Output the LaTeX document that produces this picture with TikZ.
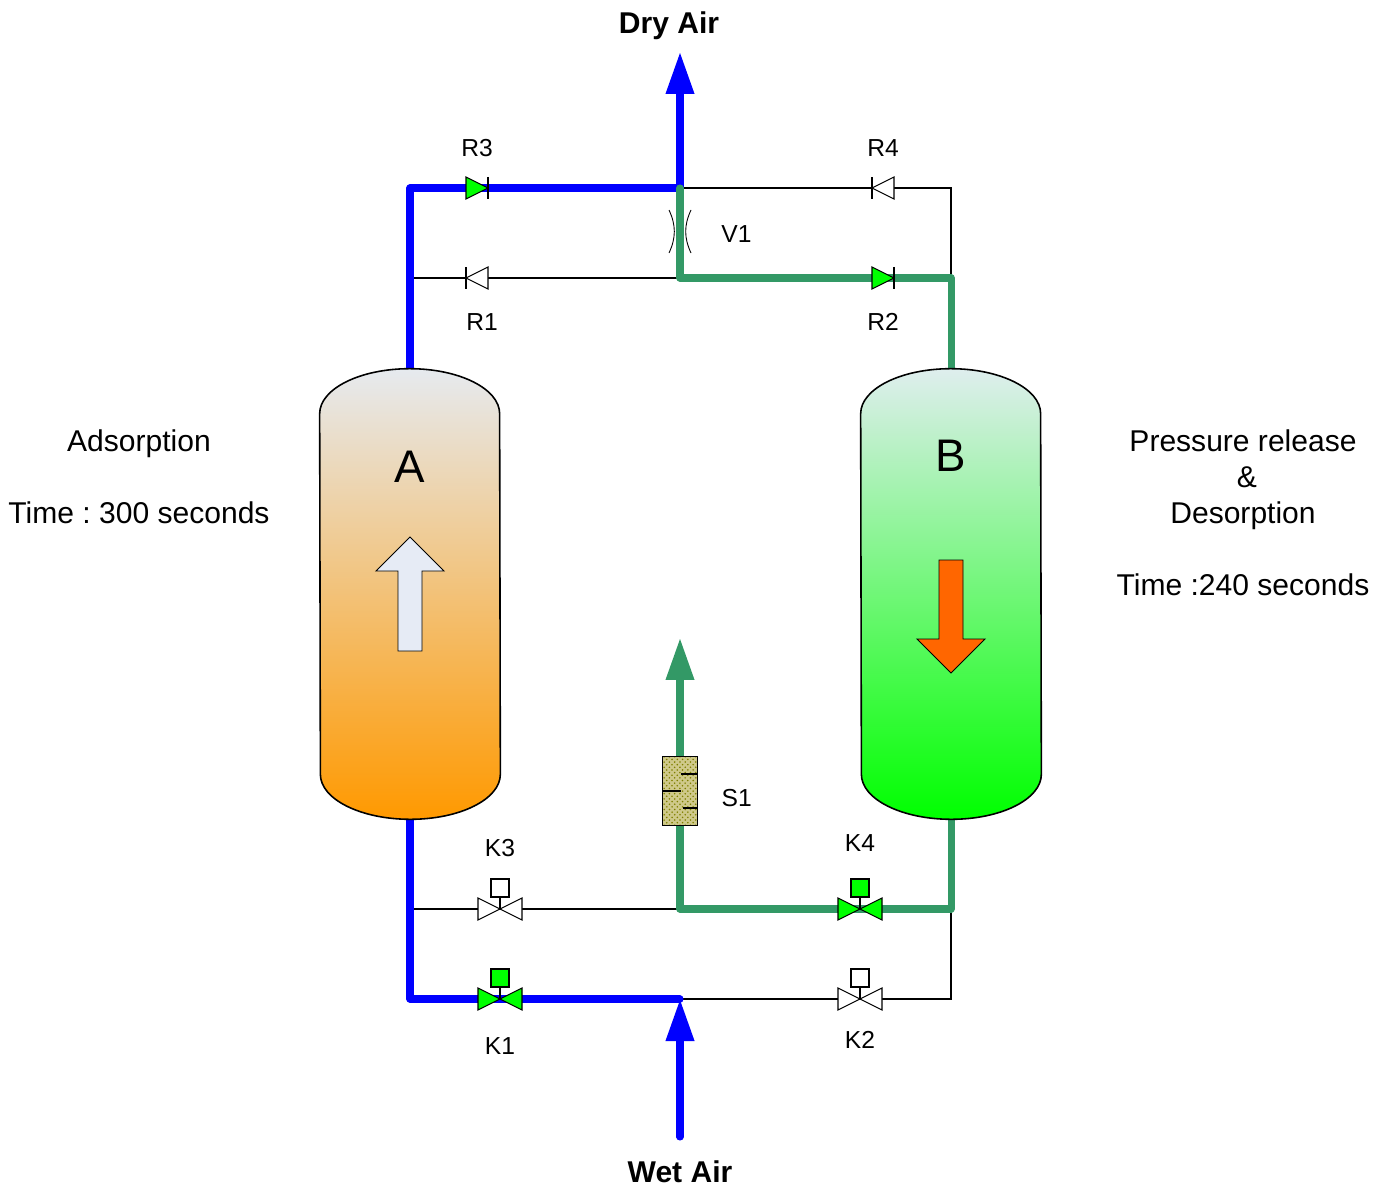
\documentclass[tikz,border=0pt]{standalone}
\usepackage{fontspec}
\setmainfont{Liberation Sans}
\frenchspacing
\usetikzlibrary{positioning}
\usetikzlibrary{arrows.meta,patterns}
\definecolor{airblue}{HTML}{0000FF}
\definecolor{purgegreen}{HTML}{339966}
\definecolor{openvalve}{HTML}{00FF00}
\definecolor{tankAtop}{HTML}{E6EAEF}
\definecolor{tankAbot}{HTML}{FF9900}
\definecolor{tankBtop}{HTML}{DFEEEE}
\definecolor{arrowpale}{HTML}{E6EBF5}
\definecolor{arroworange}{HTML}{FF6600}
\definecolor{silencer}{HTML}{CFC98A}
\tikzset{
	bluepipe/.style={draw=airblue,line width=4pt,line join=round,line cap=round},
	greenpipe/.style={draw=purgegreen,line width=4pt,line join=round,line cap=round},
	thinpipe/.style={draw=black,line width=.75pt},
	tip/.style={-{Triangle[length=.84cm,width=.54cm]}},
	tankbody/.style={minimum width=3.6cm,minimum height=9cm,inner sep=0pt},
	tag/.style={inner sep=0pt,font=\fontsize{14}{16}\selectfont},
	note/.style={inner sep=0pt,align=center,font=\fontsize{17.1}{20.5}\selectfont},
	gatevalve/.pic={
		\path[pic actions,draw=black,line width=.6pt] (-22,-11) -- (0,0) -- (-22,11) -- cycle;
		\path[pic actions,draw=black,line width=.6pt] (22,-11) -- (0,0) -- (22,11) -- cycle;
		\draw[line width=.6pt] (0,0) -- (0,-12);
		\path[pic actions,draw=black,line width=.6pt] (-9,-30) rectangle (9,-12);
	},
	checkvalve/.pic={
		\path[pic actions,draw=black,line width=.6pt] (-11,-11) -- (11,0) -- (-11,11) -- cycle;
		\draw[line width=.6pt] (11,-11) -- (11,11);
	}
}
\newcommand{\tankshell}[3]{
	\shade[top color=#2,bottom color=#3,draw=black,line width=.9pt]
		([yshift=-.9cm]#1.north west) arc[start angle=180,end angle=0,x radius=1.8cm,y radius=.9cm]
		-- ([yshift=.9cm]#1.south east) arc[start angle=0,end angle=-180,x radius=1.8cm,y radius=.9cm] -- cycle;
}
\begin{document}
\begin{tikzpicture}[x=.02cm,y=-.02cm]
	\useasboundingbox (0,0) rectangle (1388,1189);

	\node[tankbody](tankA) at (410,594) {};
	\node[tankbody](tankB) at (951,594) {};
	\coordinate (topleft) at (410,188);
	\coordinate (topmid) at (680,188);
	\coordinate (topright) at (951,188);
	\coordinate (upleft) at (410,278);
	\coordinate (upmid) at (680,278);
	\coordinate (upright) at (951,278);
	\coordinate (lowleft) at (410,909);
	\coordinate (lowmid) at (680,909);
	\coordinate (lowright) at (951,909);
	\coordinate (botleft) at (410,999);
	\coordinate (botmid) at (680,999);
	\coordinate (botright) at (951,999);
	\coordinate (dryend) at (680,52);
	\coordinate (wetstart) at (680,1137);
	\coordinate (ventend) at (680,638);
	\coordinate (r1) at (477,278);
	\coordinate (r2) at (883,278);
	\coordinate (r3) at (477,188);
	\coordinate (r4) at (883,188);
	\coordinate (k1) at (500,999);
	\coordinate (k2) at (860,999);
	\coordinate (k3) at (500,909);
	\coordinate (k4) at (860,909);
	\coordinate (v1) at (680,234);
	\node[minimum width=.68cm,minimum height=1.36cm,inner sep=0pt](s1) at (680,791) {};

	\draw[thinpipe] (upleft) to (upmid);
	\draw[thinpipe] (topmid) -- (topright) -- (upright);
	\draw[thinpipe] (lowleft) to (lowmid);
	\draw[thinpipe] (lowright) -- (botright) -- (botmid);
	\draw[bluepipe] (tankA.north) -- (topleft) -- (topmid);
	\draw[bluepipe] (tankA.south) -- (botleft) -- (botmid);
	\draw[bluepipe,tip] (topmid) to (dryend);
	\draw[greenpipe] (topmid) -- (upmid) -- (upright) -- (tankB.north);
	\draw[greenpipe] (tankB.south) -- (lowright) -- (lowmid) -- (s1.south);
	\draw[bluepipe,tip] (wetstart) to (botmid);
	\draw[greenpipe,tip] (s1.north) to (ventend);

	\tankshell{tankA}{tankAtop}{tankAbot}
	\tankshell{tankB}{tankBtop}{openvalve}
	\node[font=\fontsize{26}{30}\selectfont,inner sep=0pt](nameA) at (410,467) {A};
	\node[font=\fontsize{26}{30}\selectfont,inner sep=0pt](nameB) at (951,456) {B};
	\draw[fill=arrowpale,line width=.5pt] (398,651) -- (398,571) -- (376,571) -- (410,537) -- (444,571) -- (422,571) -- (422,651) -- cycle;
	\draw[fill=arroworange,line width=.5pt] (939,560) -- (939,639) -- (917,639) -- (951,673) -- (985,639) -- (963,639) -- (963,560) -- cycle;

	\pic[fill=white] at (r1) [rotate=180] {checkvalve};
	\pic[fill=openvalve] at (r2) {checkvalve};
	\pic[fill=openvalve] at (r3) {checkvalve};
	\pic[fill=white] at (r4) [rotate=180] {checkvalve};
	\pic[fill=openvalve] at (k1) {gatevalve};
	\pic[fill=white] at (k2) {gatevalve};
	\pic[fill=white] at (k3) {gatevalve};
	\pic[fill=openvalve] at (k4) {gatevalve};
	\draw[line width=.5pt] (669,210) to[bend left=25] (669,253);
	\draw[line width=.5pt] (691,210) to[bend right=25] (691,253);
	\fill[silencer] (s1.south west) rectangle (s1.north east);
	\fill[pattern=crosshatch dots,pattern color=olive] (s1.south west) rectangle (s1.north east);
	\draw[line width=.9pt] (s1.south west) rectangle (s1.north east);
	\draw[line width=.9pt] (681,774) -- (697,774);
	\draw[line width=.9pt] (663,791) -- (681,791);
	\draw[line width=.9pt] (683,808) -- (697,808);

	\node[tag,above=.62cm of r3](r3tag){R3};
	\node[tag,above=.62cm of r4](r4tag){R4};
	\node[tag,below=.7cm of r1,xshift=.1cm](r1tag){R1};
	\node[tag,below=.7cm of r2](r2tag){R2};
	\node[tag,right=.82cm of v1](v1tag){V1};
	\node[tag,right=.48cm of s1,yshift=-.14cm](s1tag){S1};
	\node[tag,above=1.04cm of k3](k3tag){K3};
	\node[tag,above=1.14cm of k4](k4tag){K4};
	\node[tag,below=.76cm of k1](k1tag){K1};
	\node[tag,below=.64cm of k2](k2tag){K2};
	\node[note,font=\bfseries\fontsize{17.1}{20.5}\selectfont](dryair) at (669,26) {Dry Air};
	\node[note,font=\bfseries\fontsize{17.1}{20.5}\selectfont](wetair) at (680,1172) {Wet Air};
	\node[note,anchor=north](modeA) at (139,429) {Adsorption\\[\baselineskip]Time : 300 seconds};
	\node[note,anchor=north](modeB) at (1243,429) {Pressure release\\\hspace{.16cm}\&\\Desorption\\[\baselineskip]Time :240 seconds};
\end{tikzpicture}
\end{document}
